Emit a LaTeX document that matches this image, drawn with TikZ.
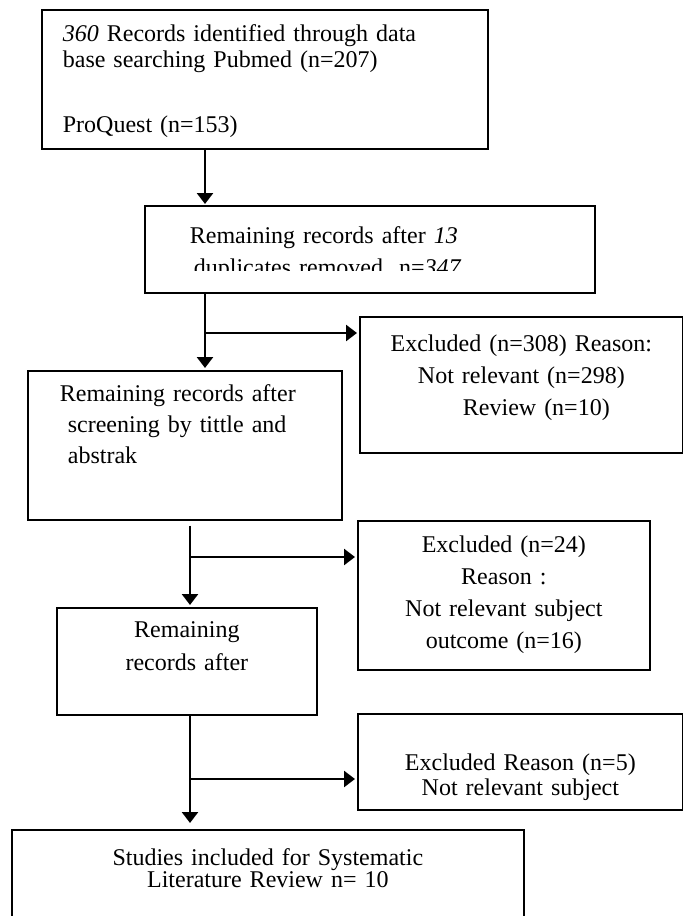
\documentclass[tikz,border=0pt]{standalone}
\usepackage{fontspec}
\setmainfont{Liberation Serif}
\usetikzlibrary{arrows.meta}

\tikzset{stage/.style={draw,rectangle,anchor=north west,inner xsep=0pt,inner ysep=0pt,
                       line width=0.85pt,font=\fontsize{12}{16}\selectfont}}

\begin{document}
\begin{tikzpicture}[x=0.5pt,y=-0.5pt,->,>={Triangle[width=8pt,length=5.5pt]},shorten >=1pt,
                    line width=1.3pt]
	\path[use as bounding box,clip] (0,0) rectangle (683,916);

	\node[stage,text width=202pt,inner xsep=10.5pt,align=left,text height=16pt,text depth=53.5pt,
	      font=\fontsize{12}{13}\selectfont]	(0)	at (41,9)
		{\textit{360} Records identified through data\\ base searching Pubmed (n=207)\\[19.5pt] ProQuest (n=153)};
	% second line of this box is cut off in the original
	\begin{scope}
		\clip (0,0) rectangle (683,270);
		\node[stage,draw=none,text width=180pt,inner xsep=22pt,align=left,text height=18.3pt,text depth=24.2pt]
			(1)	at (145,206)	{Remaining records after \textit{13}\\ \hspace*{2pt}duplicates removed~ n=\textit{347}};
	\end{scope}
	\draw[-,shorten >=0pt,line width=0.85pt] (1.north west) rectangle (1.south east);
	\node[stage,text width=161.5pt,align=center,text height=17.5pt,text depth=50.5pt]
		(2)	at (359,316)	{Excluded (n=308) Reason:\\ Not relevant (n=298)\\ \hspace*{15pt}Review (n=10)};
	\node[stage,text width=157pt,align=left,text height=15.5pt,text depth=59pt,
	      font=\fontsize{12}{15.5}\selectfont]	(3)	at (27,370)
		{\hspace*{16pt}\makebox[124.5pt][s]{Remaining records after}\\
		 \hspace*{20pt}\makebox[120.5pt][s]{screening by tittle and}\\ \hspace*{20pt}abstrak};
	\node[stage,text width=146pt,align=center,text height=16pt,text depth=58.5pt]
		(4)	at (357,520)	{Excluded (n=24)\\ Reason :\\ Not relevant subject\\ outcome (n=16)};
	\node[stage,text width=130pt,align=center,text height=15pt,text depth=38.5pt,
	      font=\fontsize{12}{16.5}\selectfont]	(5)	at (56,607)	{Remaining\\ records after};
	\node[stage,text width=162.5pt,align=center,text height=28.5pt,text depth=19.5pt,
	      font=\fontsize{12}{12.5}\selectfont]	(6)	at (357,713)	{Excluded Reason (n=5)\\ Not relevant subject};
	\node[stage,text width=256pt,align=center,text height=18pt,text depth=50pt,
	      font=\fontsize{12}{11}\selectfont]	(7)	at (11,829)
		{Studies included for Systematic\\ Literature Review n= 10};

	\coordinate (j0) at (205,333);
	\coordinate (j1) at (190,557);
	\coordinate (j2) at (190,779);

	\path	(0.south -| j0)	edge					(1.north -| j0)
			(1.south -| j0)	edge					(3.north -| j0)
			(j0)			edge					(j0 -| 2.west)
			(3.south -| j1)	edge[shorten <=2.5pt]	(5.north -| j1)
			(j1)			edge					(j1 -| 4.west)
			(5.south -| j2)	edge[shorten >=3pt]		(7.north -| j2)
			(j2)			edge					(j2 -| 6.west);
\end{tikzpicture}
\end{document}
